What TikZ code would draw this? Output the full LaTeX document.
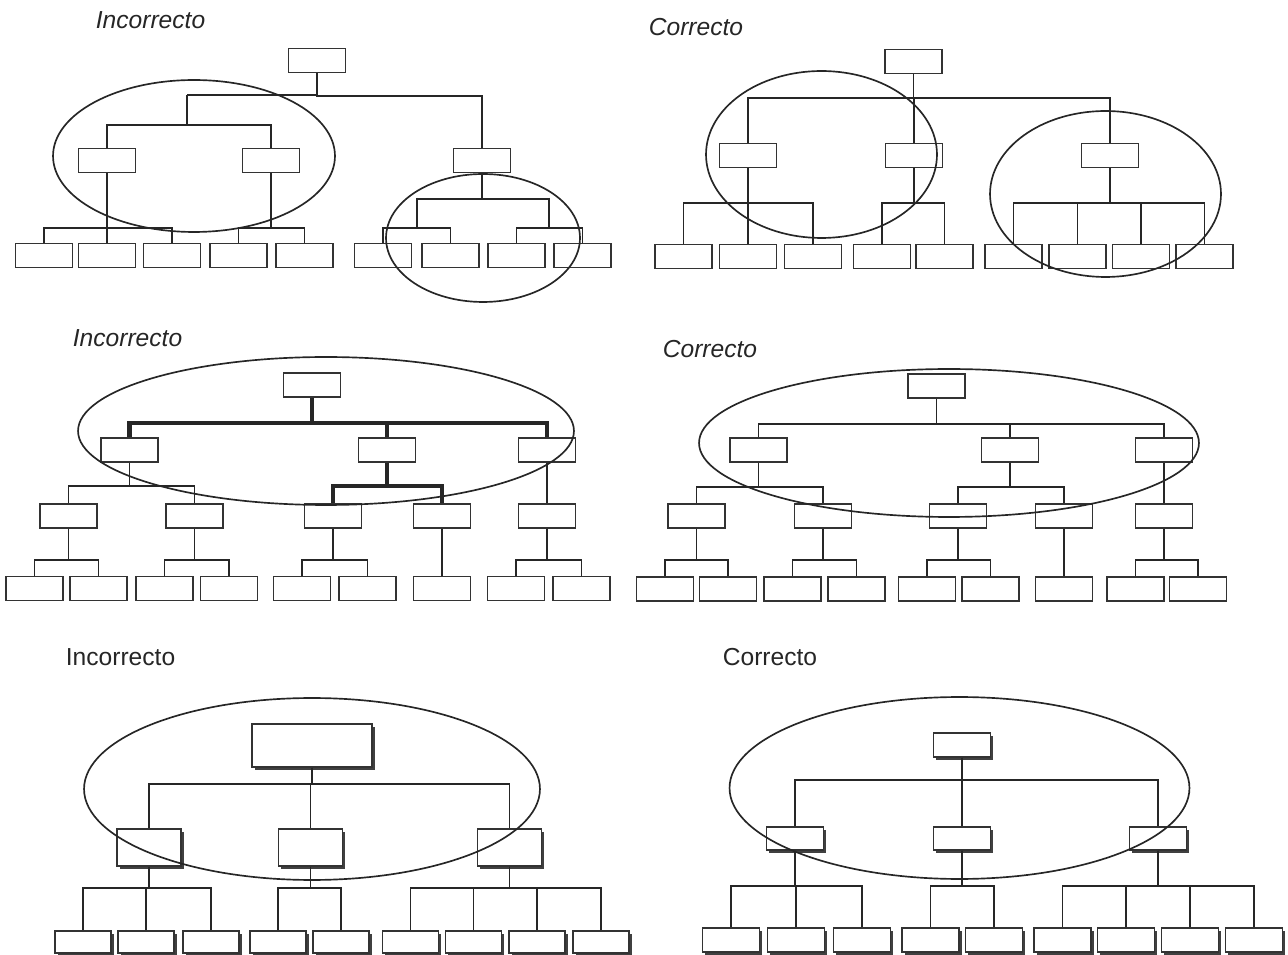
\documentclass[tikz,border=0pt]{standalone}
\usepackage{fontspec}
\setmainfont{Liberation Sans}
\usetikzlibrary{shadows}

\begin{document}
\begin{tikzpicture}[x=0.02cm, y=-0.02cm, line width=0.95pt, color=black!85,
	every node/.style={inner sep=0pt},
	box/.style={draw=black!80, fill=white, line width=0.95pt, minimum width=1.14cm, minimum height=0.48cm},
	sbox/.style={box, drop shadow={shadow xshift=0.055cm, shadow yshift=-0.055cm, opacity=1, fill=black!75}},
	title/.style={anchor=west, font=\fontsize{14}{16}\selectfont},
	ititle/.style={anchor=west, font=\fontsize{14}{16}\selectfont\itshape},
	bold/.style={line width=2.3pt}]
	\useasboundingbox (0,0) rectangle (1288,955);

	\node[ititle] (t1) at (95,20) {Incorrecto};
	\node[box] (a0) at (317,60.5) {};
	\node[box] (a1) at (107,160.5) {};
	\node[box] (a2) at (271,160.5) {};
	\node[box] (a3) at (482,160.5) {};
	\foreach \n/\x in {1/44,2/107,3/172,4/238.5,5/304.5,6/383,7/450.5,8/516.5,9/582.5}
		\node[box] (ab\n) at (\x,255.5) {};
	\coordinate (ja) at (187,95);
	\coordinate (jb) at (417,198);
	\coordinate (jc) at (549,198);
	\draw (a0.south) |- (ja);
	\draw (a0.south) -- ++(0,22.5) -| (a3.north);
	\draw (ja) -- ++(0,30) -| (a1.north);
	\draw (ja) -- ++(0,30) -| (a2.north);
	\foreach \n in {1,2,3} \draw (a1.south) -- ++(0,54.5) -| (ab\n.north);
	\foreach \n in {4,5} \draw (a2.south) -- ++(0,54.5) -| (ab\n.north);
	\draw (a3.south) -- ++(0,25.5) -| (jb);
	\draw (a3.south) -- ++(0,25.5) -| (jc);
	\foreach \n in {6,7} \draw (jb) -- ++(0,30) -| (ab\n.north);
	\foreach \n in {8,9} \draw (jc) -- ++(0,30) -| (ab\n.north);
	\draw (194,156) ellipse [x radius=2.82cm, y radius=1.52cm];
	\draw (483,238) ellipse [x radius=1.94cm, y radius=1.28cm];

	\node[ititle] (t2) at (648,27) {Correcto};
	\node[box] (b0) at (913.5,61.5) {};
	\node[box] (b1) at (748,155.5) {};
	\node[box] (b2) at (914,155.5) {};
	\node[box] (b3) at (1110,155.5) {};
	\foreach \n/\x in {1/683.5,2/748,3/813,4/882,5/944.5,6/1013.5,7/1077.5,8/1141,9/1204.5}
		\node[box] (bb\n) at (\x,256.5) {};
	\foreach \n in {1,2,3} \draw (b0.south) -- ++(0,23.5) -| (b\n.north);
	\foreach \n in {1,2,3} \draw (b1.south) -- ++(0,34.5) -| (bb\n.north);
	\foreach \n in {4,5} \draw (b2.south) -- ++(0,34.5) -| (bb\n.north);
	\foreach \n in {6,7,8,9} \draw (b3.south) -- ++(0,34.5) -| (bb\n.north);
	\draw (821.5,154.5) ellipse [x radius=2.31cm, y radius=1.67cm];
	\draw (1105.5,194) ellipse [x radius=2.31cm, y radius=1.66cm];

	\node[ititle] (t3) at (72,338) {Incorrecto};
	\node[box] (c0) at (312,385) {};
	\node[box] (c1) at (129.5,450) {};
	\node[box] (c2) at (387,450) {};
	\node[box] (c3) at (547,450) {};
	\foreach \n/\x in {1/68.5,2/194.5,3/333,4/442,5/547}
		\node[box] (cc\n) at (\x,516) {};
	\foreach \n/\x in {1/34.5,2/98.5,3/164.5,4/229,5/302,6/367.5,7/442,8/516,9/581.5}
		\node[box] (cd\n) at (\x,588.5) {};
	\foreach \n in {1,2,3} \draw[bold] (c0.south) -- ++(0,25) -| (c\n.north);
	\foreach \n in {1,2} \draw (c1.south) -- ++(0,23) -| (cc\n.north);
	\foreach \n in {3,4} \draw[bold] (c2.south) -- ++(0,23.5) -| (cc\n.north);
	\draw (c3) -- (cc5);
	\foreach \p/\n in {1/1,1/2,2/3,2/4,3/5,3/6,4/7,5/8,5/9}
		\draw (cc\p.south) -- ++(0,31) -| (cd\n.north);
	\draw (326,431) ellipse [x radius=4.96cm, y radius=1.48cm];

	\node[ititle] (t4) at (662,349) {Correcto};
	\node[box] (d0) at (936.5,386) {};
	\node[box] (d1) at (758.5,450) {};
	\node[box] (d2) at (1010,450) {};
	\node[box] (d3) at (1164,450) {};
	\foreach \n/\x in {1/696.5,2/823,3/958,4/1064,5/1164}
		\node[box] (dc\n) at (\x,516) {};
	\foreach \n/\x in {1/665,2/728,3/792.5,4/856.5,5/927,6/990.5,7/1064,8/1135.5,9/1198}
		\node[box] (dd\n) at (\x,589) {};
	\foreach \n in {1,2,3} \draw (d0.south) -- ++(0,25) -| (d\n.north);
	\foreach \n in {1,2} \draw (d1.south) -- ++(0,24) -| (dc\n.north);
	\foreach \n in {3,4} \draw (d2.south) -- ++(0,24) -| (dc\n.north);
	\draw (d3) -- (dc5);
	\foreach \p/\n in {1/1,1/2,2/3,2/4,3/5,3/6,4/7,5/8,5/9}
		\draw (dc\p.south) -- ++(0,31) -| (dd\n.north);
	\draw (949,443) ellipse [x radius=5cm, y radius=1.48cm];

	\node[title] (t5) at (65,657) {Incorrecto};
	\node[sbox, minimum width=2.4cm, minimum height=0.86cm] (e0) at (312,745.5) {};
	\node[sbox, minimum width=1.28cm, minimum height=0.74cm] (e1) at (149,847.5) {};
	\node[sbox, minimum width=1.28cm, minimum height=0.74cm] (e2) at (310.5,847.5) {};
	\node[sbox, minimum width=1.28cm, minimum height=0.74cm] (e3) at (509.5,847.5) {};
	\foreach \n/\x in {1/83,2/146,3/211,4/278,5/341,6/410.5,7/473.5,8/537,9/601}
		\node[sbox, minimum width=1.12cm, minimum height=0.44cm] (ec\n) at (\x,942) {};
	\foreach \n in {1,2,3} \draw (e0.south) -- ++(0,16) -| (e\n.north);
	\foreach \n in {1,2,3} \draw (e1.south) -- ++(0,21) -| (ec\n.north);
	\foreach \n in {4,5} \draw (e2.south) -- ++(0,21) -| (ec\n.north);
	\foreach \n in {6,7,8,9} \draw (e3.south) -- ++(0,21) -| (ec\n.north);
	\draw (312,789) ellipse [x radius=4.56cm, y radius=1.82cm];

	\node[title] (t6) at (722,657) {Correcto};
	\node[sbox] (f0) at (962,745) {};
	\node[sbox, minimum height=0.46cm] (f1) at (795,838.5) {};
	\node[sbox, minimum height=0.46cm] (f2) at (962,838.5) {};
	\node[sbox, minimum height=0.46cm] (f3) at (1158,838.5) {};
	\foreach \n/\x in {1/731,2/796,3/862,4/930.5,5/994,6/1062.5,7/1126,8/1190,9/1254}
		\node[sbox] (fc\n) at (\x,940) {};
	\foreach \n in {1,2,3} \draw (f0.south) -- ++(0,22) -| (f\n.north);
	\foreach \n in {1,2,3} \draw (f1.south) -- ++(0,35) -| (fc\n.north);
	\foreach \n in {4,5} \draw (f2.south) -- ++(0,35) -| (fc\n.north);
	\foreach \n in {6,7,8,9} \draw (f3.south) -- ++(0,35) -| (fc\n.north);
	\draw (959.5,788) ellipse [x radius=4.6cm, y radius=1.82cm];
\end{tikzpicture}
\end{document}
